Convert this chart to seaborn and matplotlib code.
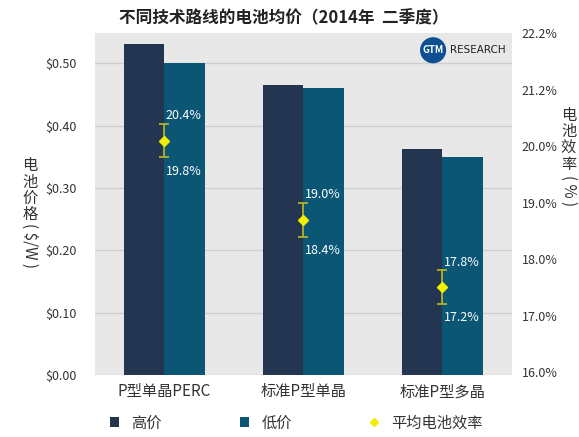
import matplotlib
matplotlib.use("Agg")
import matplotlib.pyplot as plt
import seaborn as sns
import pandas as pd
from matplotlib.patches import Patch
from matplotlib.lines import Line2D

categories = ["P型单晶PERC", "标准P型单晶", "标准P型多晶"]
high_price = [0.53, 0.465, 0.363]
low_price = [0.50, 0.46, 0.35]
eff_mean = [20.1, 18.7, 17.5]
eff_high = [20.4, 19.0, 17.8]
eff_low = [19.8, 18.4, 17.2]
left_ticks = [0.0, 0.1, 0.2, 0.3, 0.4, 0.5]
left_labels = ["$0.00", "$0.10", "$0.20", "$0.30", "$0.40", "$0.50"]
right_ticks = [16, 17, 18, 19, 20, 21, 22]
right_labels = ["16.0%", "17.0%", "18.0%", "19.0%", "20.0%", "21.2%", "22.2%"]
series_names = ["高价", "低价"]
eff_name = "平均电池效率"
title = "不同技术路线的电池均价（2014年  二季度）"

sns.set_style("white")
plt.rcParams['font.family'] = ['Noto Sans CJK SC', 'DejaVu Sans']

C_HIGH = "#233550"
C_LOW = "#0b5675"
C_BG = "#e8e8e8"
C_TXT = "#333333"

df = pd.DataFrame({
    "cat": categories * 2,
    "series": [series_names[0]] * 3 + [series_names[1]] * 3,
    "price": high_price + low_price,
})

fig = plt.figure(figsize=(5.79, 4.37), dpi=100)
ax = fig.add_axes([0.164, 0.142, 0.720, 0.782])
ax.set_facecolor(C_BG)
sns.barplot(data=df, x="cat", y="price", hue="series", palette=[C_HIGH, C_LOW],
            width=0.58, saturation=1, ax=ax, legend=False, zorder=3,
            edgecolor="none", linewidth=0)
ax.set_ylim(0, 0.548)
ax.set_xlim(-0.5, 2.5)
ax.set_yticks(left_ticks)
ax.set_yticklabels(left_labels, fontsize=9, color=C_TXT)
ax.tick_params(axis="y", length=0, pad=13)
ax.tick_params(axis="x", length=0, labelsize=11, colors=C_TXT, pad=6)
ax.set_xlabel("")
ax.set_ylabel("")
ax.grid(axis="y", color="#cfcfcf", linewidth=1, zorder=0)
ax.set_axisbelow(True)
for s in ax.spines.values():
    s.set_visible(False)

ax2 = ax.twinx()
ax2.set_ylim(15.95, 22)
ax2.set_yticks(right_ticks)
ax2.set_yticklabels(right_labels, fontsize=9, color=C_TXT)
ax2.tick_params(axis="y", length=0, pad=7)
for s in ax2.spines.values():
    s.set_visible(False)
xs = list(range(len(categories)))
yerr = [[m - l for m, l in zip(eff_mean, eff_low)], [h - m for h, m in zip(eff_high, eff_mean)]]
ax2.errorbar(xs, eff_mean, yerr=yerr, fmt="D", color="#f2ee00", markersize=5,
             ecolor="#b3b325", elinewidth=1.3, capsize=3.5, capthick=1.3, zorder=5)
for x, m, h, l in zip(xs, eff_mean, eff_high, eff_low):
    ax2.annotate(f"{h:.1f}%", (x, m), xytext=(1, 18), textcoords="offset points",
                 color="white", fontsize=9, va="center", ha="left")
    ax2.annotate(f"{l:.1f}%", (x, m), xytext=(1, -22), textcoords="offset points",
                 color="white", fontsize=9, va="center", ha="left")

# title
fig.text(0.49, 0.958, title, ha="center", va="center", fontsize=12,
         fontweight="bold", color="#222222")

# axis labels (vertical stacked CJK)
fig.text(0.052, 0.64, "电\n池\n价\n格", ha="center", va="top", fontsize=11,
         color=C_TXT, linespacing=0.95)
fig.text(0.052, 0.49, "( $/W )", ha="center", va="top", fontsize=11,
         color=C_TXT, rotation=270)
fig.text(0.982, 0.755, "电\n池\n效\n率", ha="center", va="top", fontsize=11,
         color=C_TXT, linespacing=0.95)
fig.text(0.982, 0.6, "( % )", ha="center", va="top", fontsize=11,
         color=C_TXT, rotation=270)

# logo
fig.text(0.748, 0.885, "GTM", ha="center", va="center", fontsize=7, color="white",
         fontweight="bold",
         bbox=dict(boxstyle="circle,pad=0.25", fc="#0d4f91", ec="none"))
fig.text(0.778, 0.885, "RESEARCH", ha="left", va="center", fontsize=7.5,
         color="#222222", family=["Liberation Sans Narrow", "DejaVu Sans"])

handles = [
    Patch(facecolor=C_HIGH, edgecolor="none"),
    Patch(facecolor=C_LOW, edgecolor="none"),
    Line2D([], [], marker="D", color="none", markerfacecolor="#f2ee00",
           markeredgecolor="#f2ee00", markersize=4),
]
fig.legend(handles, series_names + [eff_name], loc="center", bbox_to_anchor=(0.512, 0.032),
           ncol=3, frameon=False, fontsize=11, handlelength=0.6, handleheight=0.6,
           columnspacing=5.1, handletextpad=0.8, labelcolor=C_TXT)

fig.savefig("out.png", dpi=100)
